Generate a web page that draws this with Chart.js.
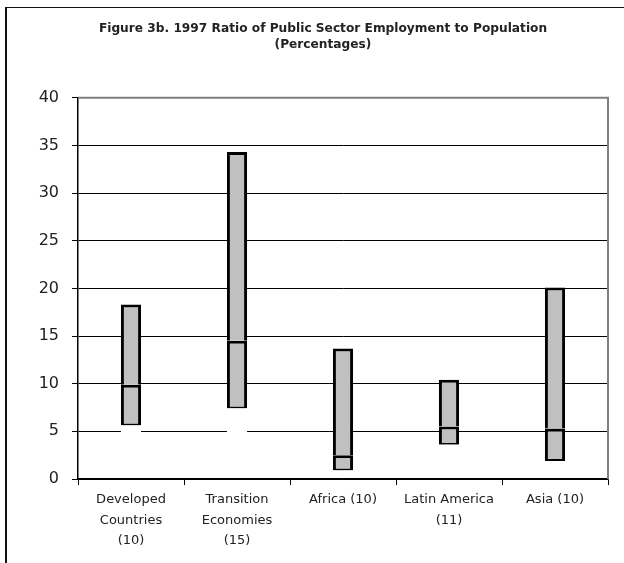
<!DOCTYPE html>
<html>
<head>
<meta charset="utf-8">
<script src="https://cdn.jsdelivr.net/npm/chart.js@4"></script>
<style>
  html, body { margin: 0; padding: 0; background: #fff; }
  #wrap { position: relative; width: 624px; height: 563px; }
  #frame { position: absolute; left: 5px; top: 7px; right: 0; bottom: 0;
           border-left: 2px solid #111; border-top: 1px solid #111; pointer-events: none; }
  #chart { position: absolute; left: 0; top: 0; }
</style>
</head>
<body>
<div id="wrap">
  <canvas id="chart" width="624" height="563"></canvas>
  <div id="frame"></div>
</div>
<script>
// categories + min / median / max per region
var categories = [
    ['Developed', 'Countries', '(10)'],
    ['Transition', 'Economies', '(15)'],
    'Africa (10)',
    ['Latin America', '(11)'],
    'Asia (10)'
];
var minValues = [5.6, 7.4, 0.9, 3.6, 1.9];
var medianValues = [9.9, 14.5, 2.5, 5.5, 5.3];
var maxValues = [18.3, 34.3, 13.7, 10.4, 20.1];
var yTicks = [0, 5, 10, 15, 20, 25, 30, 35, 40];

var lowerPart = [];
var upperPart = [];
for (var i = 0; i < minValues.length; ++i) {
    lowerPart.push(medianValues[i] - minValues[i]);
    upperPart.push(maxValues[i] - medianValues[i]);
}

// gray frame on top and right of the plot area
const plotFrame = {
    id: 'plotFrame',
    afterDraw(chart) {
        const a = chart.chartArea;
        const ctx = chart.ctx;
        ctx.save();
        ctx.strokeStyle = '#808080';
        ctx.lineWidth = 2;
        ctx.beginPath();
        ctx.moveTo(a.left, a.top);
        ctx.lineTo(a.right, a.top);
        ctx.lineTo(a.right, a.bottom);
        ctx.stroke();
        ctx.restore();
    }
};

const config = {
    type: 'bar',
    data: {
        labels: categories,
        datasets: [{
            label: 'base',
            data: minValues,
            backgroundColor: '#ffffff',
            borderWidth: 0
        }, {
            label: 'min-median',
            data: lowerPart,
            backgroundColor: '#c0c0c0',
            borderColor: '#000',
            borderWidth: {left: 3, right: 3, top: 3, bottom: 2},
            borderSkipped: false
        }, {
            label: 'median-max',
            data: upperPart,
            backgroundColor: '#c0c0c0',
            borderColor: '#000',
            borderWidth: {left: 3, right: 3, top: 3, bottom: 0},
            borderSkipped: false
        }]
    },
    options: {
        responsive: false,
        animation: false,
        categoryPercentage: 1,
        barPercentage: 0.19,
        layout: {padding: {left: 38, right: 16, top: 0, bottom: 0}},
        plugins: {
            legend: {display: false},
            tooltip: {enabled: false},
            title: {
                display: true,
                text: ['Figure 3b. 1997 Ratio of Public Sector Employment to Population', '(Percentages)'],
                color: '#222',
                font: {family: 'DejaVu Sans', size: 12.2, weight: 'bold', lineHeight: 1.3},
                padding: {top: 21, bottom: 45}
            }
        },
        scales: {
            x: {
                stacked: true,
                afterFit: function(scale) { scale.height = 84; },
                grid: {drawOnChartArea: false, tickLength: 6, color: '#000', offset: true},
                border: {color: '#000', width: 1.5, z: 1},
                ticks: {
                    color: '#222',
                    padding: 5,
                    maxRotation: 0,
                    autoSkip: false,
                    font: {family: 'DejaVu Sans', size: 13, lineHeight: 1.55}
                }
            },
            y: {
                stacked: true,
                min: 0,
                max: 40,
                afterFit: function(scale) { scale.width = 40; },
                afterBuildTicks: function(scale) {
                    scale.ticks = yTicks.map(function(v) { return {value: v}; });
                },
                grid: {color: '#000', lineWidth: 1, tickLength: 6},
                border: {color: '#000', width: 1.5, z: 1},
                ticks: {
                    color: '#222',
                    padding: 13,
                    font: {family: 'DejaVu Sans', size: 16}
                }
            }
        }
    },
    plugins: [plotFrame]
};

new Chart(document.getElementById('chart'), config);
</script>
</body>
</html>
